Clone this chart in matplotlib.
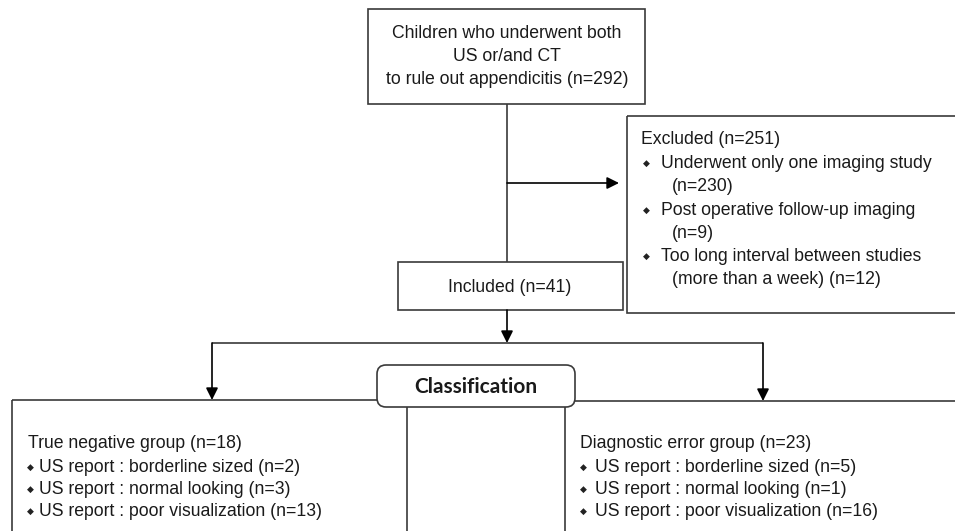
import matplotlib.pyplot as plt
from matplotlib.patches import Rectangle, FancyBboxPatch

# texts of the flow chart
top_lines = ["Children who underwent both", "US or/and CT", "to rule out appendicitis (n=292)"]
excluded_title = "Excluded (n=251)"
excluded_items = [["Underwent only one imaging study", "(n=230)"],
                  ["Post operative follow-up imaging", "(n=9)"],
                  ["Too long interval between studies", "(more than a week) (n=12)"]]
included_text = "Included (n=41)"
class_text = "Classification"
neg_title = "True negative group (n=18)"
neg_items = ["US report : borderline sized (n=2)",
             "US report : normal looking (n=3)",
             "US report : poor visualization (n=13)"]
err_title = "Diagnostic error group (n=23)"
err_items = ["US report : borderline sized (n=5)",
             "US report : normal looking (n=1)",
             "US report : poor visualization (n=16)"]

W, H = 955, 531
fig = plt.figure(figsize=(W / 100, H / 100), dpi=100)
ax = fig.add_axes([0, 0, 1, 1])
ax.set_xlim(0, W)
ax.set_ylim(H, 0)
ax.axis('off')

lc = '#3a3a3a'
tc = '#1a1a1a'
lw = 1.2
fnt = 'Liberation Sans'
fs = 12.7


def box(x0, y0, x1, y1):
    ax.add_patch(Rectangle((x0, y0), x1 - x0, y1 - y0, fill=False, ec=lc, lw=lw))


def line(xs, ys):
    ax.plot(xs, ys, color=lc, lw=lw, solid_capstyle='butt')


def arrow(x0, y0, x1, y1):
    ax.annotate('', xy=(x1, y1), xytext=(x0, y0),
                arrowprops=dict(arrowstyle='-|>', color='black', lw=lw,
                                mutation_scale=18, shrinkA=0, shrinkB=0))


def bullet(x, y):
    ax.text(x, y, '\u25c6', fontsize=6.5, family='DejaVu Sans', ha='center', va='center', color='#222222')


def label(x, y, t, ha='left'):
    ax.text(x, y, t, ha=ha, va='center', fontsize=fs, family=fnt, color=tc)


# top box
box(368, 9, 645, 104)
for i, t in enumerate(top_lines):
    label(507, 33 + i * 23.5, t, ha='center')

# excluded box
box(627, 116, 960, 313)
label(641, 140, excluded_title)
y = 163.5
for first, second in excluded_items:
    bullet(646, y)
    label(661, y, first)
    label(672, y + 23.3, second)
    y += 46.6

# connectors
line([507, 507], [104, 262])
arrow(507, 183, 619, 183)

# included box
box(398, 262, 623, 310)
label(510, 287, included_text, ha='center')
arrow(507, 310, 507, 343)

line([212, 763], [343, 343])
arrow(212, 343, 212, 400)
arrow(763, 343, 763, 401)

# group boxes
box(12, 400, 407, 540)
box(565, 401, 965, 540)

label(28, 443, neg_title)
for i, t in enumerate(neg_items):
    yy = 467 + i * 22
    bullet(30, yy)
    label(39, yy, t)

label(580, 443, err_title)
for i, t in enumerate(err_items):
    yy = 467 + i * 22
    bullet(583, yy)
    label(595, yy, t)

# classification box
ax.add_patch(FancyBboxPatch((377, 365), 198, 42, boxstyle='round,pad=0,rounding_size=9',
                            fc='white', ec=lc, lw=lw, zorder=5))
ax.text(476, 387, class_text, ha='center', va='center', fontsize=15, family='Lato',
        weight='bold', color=tc, zorder=6)

fig.savefig('out.png', dpi=100)
